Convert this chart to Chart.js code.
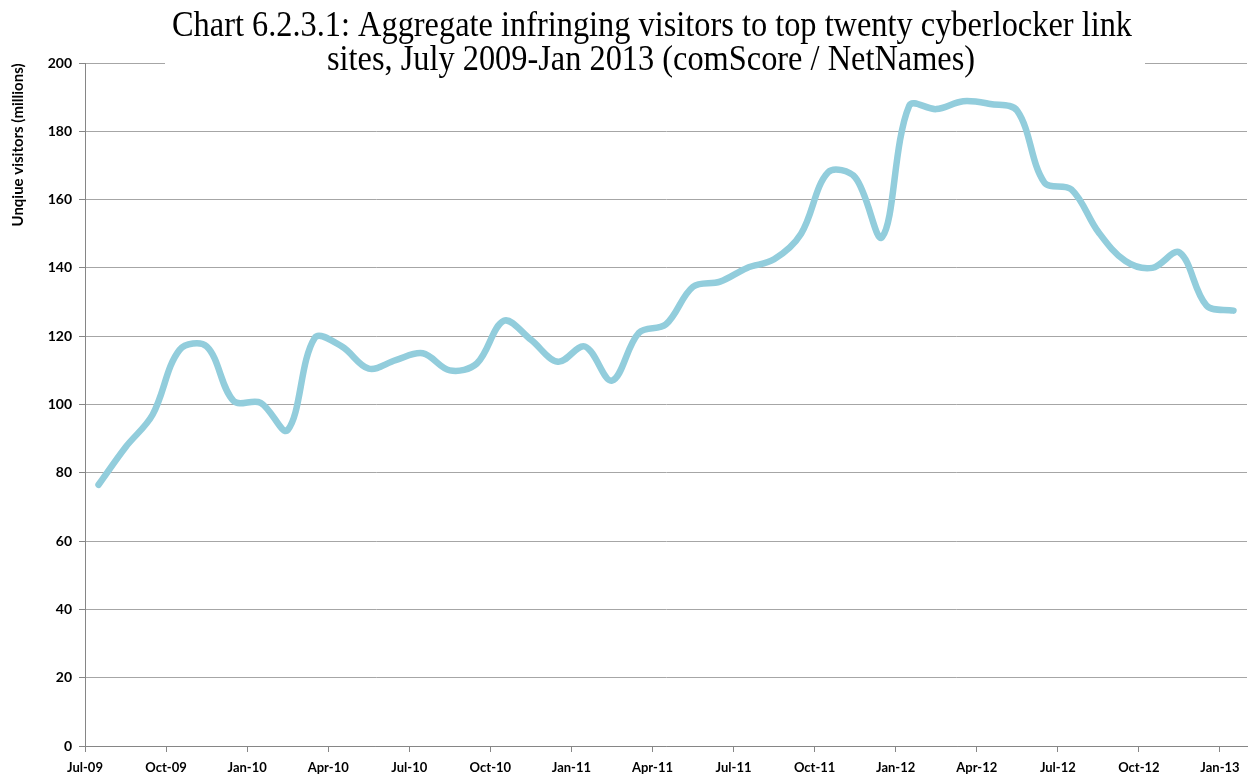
<!DOCTYPE html>
<html>
<head>
<meta charset="utf-8">
<script src="https://cdn.jsdelivr.net/npm/chart.js"></script>
<style>
  body { margin: 0; background: #fff; }
  #wrap { width: 1255px; height: 781px; position: relative; }
</style>
</head>
<body>
<div id="wrap"><canvas id="visitorsChart"></canvas></div>
<script>
// months Jul-09 .. Jan-13, one value per month (millions)
const months = ["Jul-09","Aug-09","Sep-09","Oct-09","Nov-09","Dec-09","Jan-10","Feb-10","Mar-10","Apr-10","May-10","Jun-10",
  "Jul-10","Aug-10","Sep-10","Oct-10","Nov-10","Dec-10","Jan-11","Feb-11","Mar-11","Apr-11","May-11","Jun-11",
  "Jul-11","Aug-11","Sep-11","Oct-11","Nov-11","Dec-11","Jan-12","Feb-12","Mar-12","Apr-12","May-12","Jun-12",
  "Jul-12","Aug-12","Sep-12","Oct-12","Nov-12","Dec-12","Jan-13"];
const visitors = [76.5, 87.5, 97, 116, 117, 101, 100.5, 92.5, 119.5, 117, 110.5, 113,
  115, 110, 112, 124.5, 119, 112.5, 117, 107, 121, 123.5, 134.5, 136,
  140, 142.5, 150, 168, 166.5, 149, 187.5, 186.5, 188.8, 188, 186, 165,
  163, 150.5, 142, 140, 144.5, 129, 127.5];
const tickLabels = ["Jul-09","Oct-09","Jan-10","Apr-10","Jul-10","Oct-10","Jan-11","Apr-11","Jul-11","Oct-11","Jan-12","Apr-12","Jul-12","Oct-12","Jan-13"];
const yTicks = [0, 20, 40, 60, 80, 100, 120, 140, 160, 180, 200];

const titleLines = ["Chart 6.2.3.1: Aggregate infringing visitors to top twenty cyberlocker link",
  "sites, July 2009-Jan 2013 (comScore / NetNames)"];
const yTitle = "Unqiue visitors (millions)";

// points sit in the middle of each month slot
const points = visitors.map((v, i) => ({ x: i + 0.5, y: v }));

//Title + rotated axis title drawn by hand (title box overlaps the plot)
const titlePlugin = {
  id: "titleBox",
  afterDraw(chart) {
    const ctx = chart.ctx;
    ctx.save();
    ctx.fillStyle = "#fff";
    ctx.fillRect(165, 0, 980, 80);
    ctx.fillStyle = "#000";
    ctx.font = '35px "Liberation Serif"';
    ctx.textAlign = "center";
    ctx.textBaseline = "alphabetic";
    const sx = 960 / ctx.measureText(titleLines[0]).width;
    ctx.save();
    ctx.translate(652, 36);
    ctx.scale(sx, 1);
    ctx.fillText(titleLines[0], 0, 0);
    ctx.restore();
    ctx.save();
    ctx.translate(651, 70);
    ctx.scale(sx, 1);
    ctx.fillText(titleLines[1], 0, 0);
    ctx.restore();

    ctx.translate(18, 145);
    ctx.rotate(-Math.PI / 2);
    ctx.font = 'bold 15px Lato';
    ctx.textBaseline = "middle";
    ctx.fillText(yTitle, 0, 0);
    ctx.restore();
  }
};

const ctx = document.getElementById("visitorsChart").getContext("2d");
const visitorsChart = new Chart(ctx, {
  type: "line",
  data: {
    datasets: [
      {
        label: "Visitors",
        data: points,
        borderColor: "#92cddc",
        borderWidth: 6.5,
        borderCapStyle: "round",
        borderJoinStyle: "round",
        pointRadius: 0,
        fill: false,
        tension: 0.35,
      },
    ],
  },
  options: {
    responsive: true,
    maintainAspectRatio: false,
    animation: false,
    layout: { padding: { top: 63, right: 8, left: 0, bottom: 0 } },
    plugins: {
      legend: { display: false },
      tooltip: { enabled: false },
    },
    scales: {
      x: {
        type: "linear",
        min: 0,
        max: 43,
        afterBuildTicks: (axis) => {
          axis.ticks = tickLabels.map((_, j) => ({ value: j * 3 }));
        },
        afterFit: (scale) => { scale.height = 35; },
        grid: { drawOnChartArea: false, tickLength: 6, tickColor: "#868686" },
        border: { color: "#868686" },
        ticks: {
          autoSkip: false,
          maxRotation: 0,
          padding: 8,
          color: "#000",
          font: { family: "Lato", size: 13, weight: "bold" },
          callback: (v, i) => tickLabels[i],
        },
      },
      y: {
        min: 0,
        max: 200,
        afterBuildTicks: (axis) => {
          axis.ticks = yTicks.map((v) => ({ value: v }));
        },
        afterFit: (scale) => { scale.width = 85; },
        grid: { color: "#a6a6a6", tickLength: 6, tickColor: "#868686" },
        border: { color: "#868686" },
        ticks: {
          padding: 7,
          color: "#000",
          font: { family: "Lato", size: 14, weight: "bold" },
        },
      },
    },
  },
  plugins: [titlePlugin],
});
</script>
</body>
</html>
